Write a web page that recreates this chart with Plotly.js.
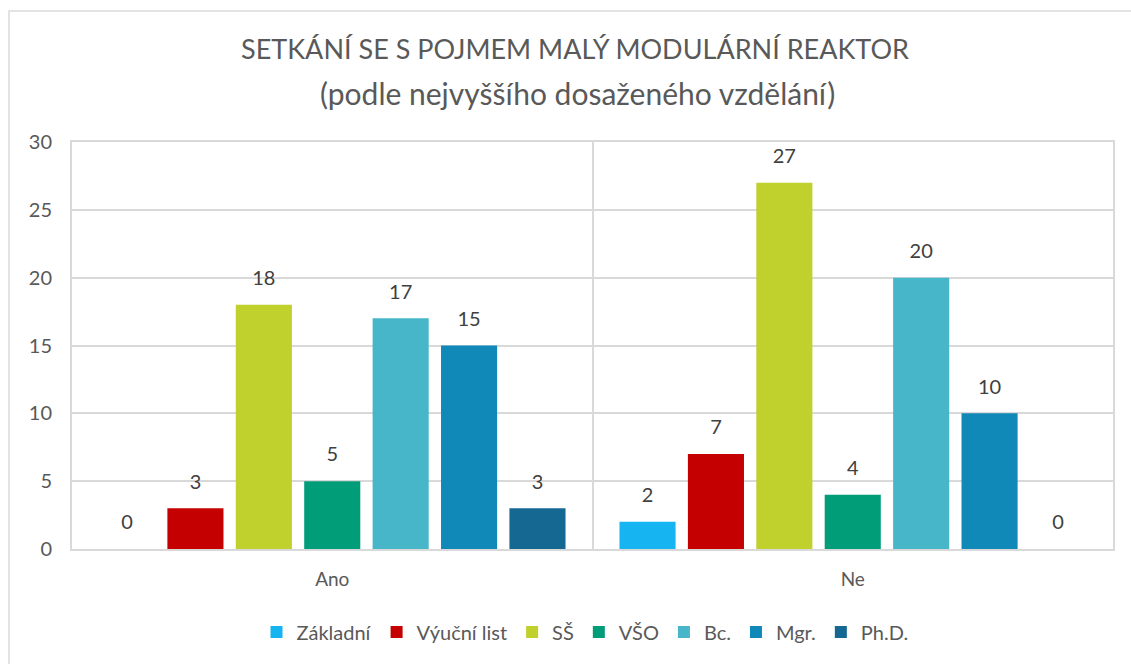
<!DOCTYPE html>
<html><head><meta charset="utf-8">
<script src="https://cdn.plot.ly/plotly-3.0.1.min.js"></script>
<style>
html,body{margin:0;padding:0;background:#fff;}
#wrap{position:relative;width:1131px;height:664px;}
#chart{width:1131px;height:664px;}
#frame{position:absolute;left:8px;top:10px;width:1140px;height:670px;border:2px solid #e3e3e3;pointer-events:none;box-sizing:border-box;}
</style></head>
<body>
<div id="wrap"><div id="chart"></div><div id="frame"></div></div>
<script>
const titleLine1 = "SETKÁNÍ SE S POJMEM MALÝ MODULÁRNÍ REAKTOR";
const titleLine2 = "(podle nejvyššího dosaženého vzdělání)";
const categories = ["Ano", "Ne"];
const seriesNames = ["Základní", "Výuční list", "SŠ", "VŠO", "Bc.", "Mgr.", "Ph.D."];
const zakladni = [0, 2];
const vyucniList = [3, 7];
const ss = [18, 27];
const vso = [5, 4];
const bc = [17, 20];
const mgr = [15, 10];
const phd = [3, 0];
const seriesValues = [zakladni, vyucniList, ss, vso, bc, mgr, phd];
const colors = ["#17B4F2", "#C40000", "#C0D02C", "#009D78", "#46B6C8", "#1089B8", "#156892"];

const FONT = "Lato, 'Open Sans', sans-serif";

const barTraces = seriesNames.map((name, i) => ({
  type: "bar",
  name: name,
  x: categories,
  y: seriesValues[i],
  marker: {color: colors[i], line: {width: 0}},
  hoverinfo: "x+y+name"
}));

const labelTraces = seriesNames.map((name, i) => ({
  type: "scatter",
  mode: "markers+text",
  name: name + " label",
  showlegend: false,
  x: categories,
  y: seriesValues[i],
  text: seriesValues[i].map(String),
  textposition: "top center",
  cliponaxis: false,
  textfont: {family: FONT, size: 20, color: "#404040"},
  marker: {size: 22, color: "rgba(0,0,0,0)", line: {width: 0}},
  hoverinfo: "skip"
}));

const layout = {
  width: 1131, height: 664,
  margin: {l: 72, r: 18, t: 142, b: 115},
  paper_bgcolor: "#ffffff",
  plot_bgcolor: "#ffffff",
  font: {family: FONT, color: "#595959", size: 18},
  title: {
    text: titleLine1,
    font: {family: FONT, size: 27, color: "#595959"},
    x: 575 / 1131, xanchor: "center", xref: "container",
    y: 1 - 50/664, yanchor: "middle", yref: "container"
  },
  annotations: [{
    text: titleLine2,
    xref: "paper", yref: "paper",
    x: (577 - 72) / (1131 - 72 - 18), xanchor: "center",
    y: 1 + (142 - 93) / (664 - 142 - 115), yanchor: "middle",
    showarrow: false,
    font: {family: FONT, size: 30, color: "#595959"}
  }],
  barmode: "group",
  bargap: 0.08,
  bargroupgap: 0.18,
  scattermode: "group",
  scattergap: 0.08,
  xaxis: {
    type: "category",
    tickson: "boundaries",
    showgrid: true, gridcolor: "#d9d9d9", gridwidth: 2,
    showline: true, linecolor: "#d9d9d9", linewidth: 2, mirror: true,
    ticks: "", ticklen: 0,
    ticklabelstandoff: 12,
    tickfont: {size: 19, color: "#595959"},
    zeroline: false
  },
  yaxis: {
    range: [0, 30], dtick: 5, tick0: 0,
    showgrid: true, gridcolor: "#d9d9d9", gridwidth: 2,
    showline: true, linecolor: "#d9d9d9", linewidth: 2, mirror: true,
    zeroline: false,
    ticks: "", ticklabelstandoff: 14,
    tickfont: {size: 20, color: "#595959"}
  },
  legend: {
    orientation: "h",
    x: (585 - 72) / (1131 - 72 - 18), xanchor: "center",
    y: -(632 - 549) / (664 - 142 - 115), yanchor: "middle",
    font: {size: 20, color: "#595959"},
    itemwidth: 30,
    traceorder: "normal"
  },
  showlegend: true
};

Plotly.newPlot("chart", barTraces.concat(labelTraces), layout, {displayModeBar: false, staticPlot: true});
</script>
</body></html>
